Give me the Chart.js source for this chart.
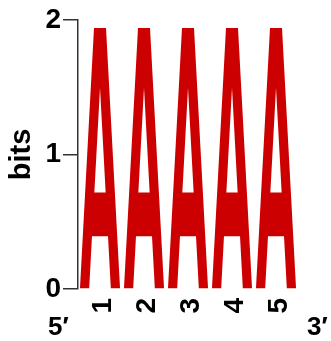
<!DOCTYPE html>
<html lang="en">
<head>
  <meta charset="UTF-8" />
  <title>Sequence logo</title>
  <script src="https://cdn.jsdelivr.net/npm/chart.js"></script>
  <style>
    * { box-sizing: border-box; margin: 0; padding: 0; }
    body { background: #fff; width: 331px; height: 341px; overflow: hidden; }
    canvas { display: block; }
  </style>
</head>
<body>
  <canvas id="logo" width="331" height="341"></canvas>

  <script>
    // Data
    const positions = ['1', '2', '3', '4', '5'];
    const letters = ['A', 'A', 'A', 'A', 'A'];
    const bits = [1.94, 1.94, 1.94, 1.94, 1.94];
    const yTicks = [0, 1, 2];

    const FONT = "'Liberation Sans', Arial, sans-serif";
    const RED = '#cc0000';

    // outline of an "A" in a unit box (u across, v up), counter drawn as a hole
    const glyphA = {
      outer: [[0, 0], [0.35, 1], [0.65, 1], [1, 0], [0.77, 0], [0.70, 0.2], [0.30, 0.2], [0.23, 0]],
      hole: [[0.5, 0.771], [0.641, 0.368], [0.359, 0.368]]
    };

    const logoPlugin = {
      id: 'logoLetters',
      afterDatasetsDraw(chart) {
        const ctx = chart.ctx;
        const meta = chart.getDatasetMeta(0);
        meta.data.forEach((bar, i) => {
          if (letters[i] !== 'A') return;
          const left = bar.x - bar.width / 2;
          const w = bar.width;
          const h = bar.base - bar.y;
          const pt = ([u, v]) => [left + u * w, bar.base - v * h];
          ctx.save();
          ctx.fillStyle = RED;
          ctx.beginPath();
          [glyphA.outer, glyphA.hole].forEach(poly => {
            poly.forEach((p, k) => {
              const [px, py] = pt(p);
              k === 0 ? ctx.moveTo(px, py) : ctx.lineTo(px, py);
            });
            ctx.closePath();
          });
          ctx.fill('evenodd');
          ctx.restore();
        });
      },
      afterDraw(chart) {
        const { ctx, chartArea } = chart;
        ctx.save();
        ctx.fillStyle = '#000';
        ctx.font = 'bold 26px ' + FONT;
        ctx.textBaseline = 'alphabetic';
        ctx.fillText('5\u2032', chartArea.left - 30, 335);
        ctx.fillText('3\u2032', chartArea.right + 9, 335);
        ctx.restore();
      }
    };

    new Chart(document.getElementById('logo'), {
      type: 'bar',
      data: {
        labels: positions,
        datasets: [{
          label: 'A',
          data: bits,
          backgroundColor: 'rgba(0,0,0,0)',
          borderWidth: 0,
          categoryPercentage: 1,
          barPercentage: 0.91
        }]
      },
      options: {
        responsive: false,
        animation: false,
        events: [],
        layout: { padding: { top: 20, right: 33, left: 0, bottom: 0 } },
        plugins: {
          legend: { display: false },
          tooltip: { enabled: false }
        },
        scales: {
          x: {
            grid: { display: false },
            border: { display: false },
            ticks: {
              color: '#000',
              font: { family: FONT, size: 28, weight: 'bold' },
              minRotation: 90,
              maxRotation: 90,
              autoSkip: false,
              padding: 1,
              labelOffset: 3
            },
            afterFit(scale) { scale.height = 52; }
          },
          y: {
            min: 0,
            max: 2,
            afterBuildTicks(scale) { scale.ticks = yTicks.map(v => ({ value: v })); },
            grid: { drawOnChartArea: false, drawTicks: true, tickLength: 15, color: '#333', lineWidth: 1.5 },
            border: { display: true, color: '#333', width: 1.5 },
            ticks: {
              color: '#000',
              font: { family: FONT, size: 28, weight: 'bold' },
              padding: 2
            },
            title: {
              display: true,
              text: 'bits',
              color: '#000',
              font: { family: FONT, size: 29, weight: 'bold' },
              padding: { top: 5, bottom: 0 }
            },
            afterFit(scale) { scale.width = 78; }
          }
        }
      },
      plugins: [logoPlugin]
    });
  </script>
</body>
</html>
